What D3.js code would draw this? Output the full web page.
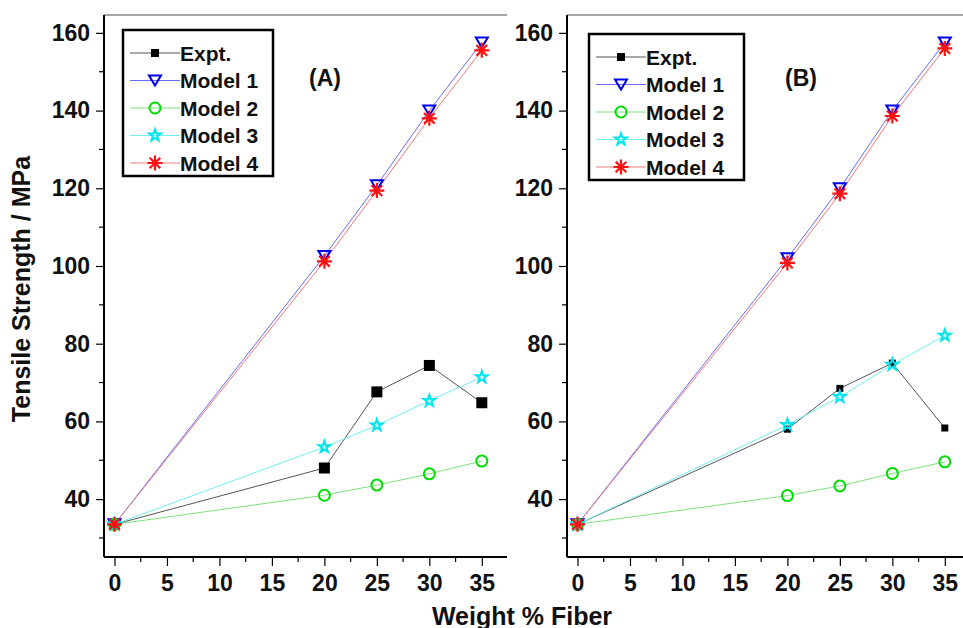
<!DOCTYPE html>
<html>
<head>
<meta charset="utf-8">
<script src="https://cdn.jsdelivr.net/npm/d3@7"></script>
<style>
  body { margin: 0; background: #fff; }
  svg { display: block; font-family: "Liberation Sans", Arial, sans-serif; font-weight: bold; }
</style>
</head>
<body>
<svg id="chart" width="963" height="628"></svg>
<script>
// fiber loading (wt %)
var fiber = [0, 20, 25, 30, 35];

// panel A values (MPa)
var exptA   = [33.5, 48.0, 67.6, 74.4, 64.8];
var model1A = [33.5, 102.6, 120.8, 140.0, 157.5];
var model2A = [33.5, 41.0, 43.6, 46.5, 49.8];
var model3A = [33.5, 53.4, 59.0, 65.3, 71.4];
var model4A = [33.5, 101.2, 119.4, 138.0, 155.5];

// panel B values (MPa)
var exptB   = [33.5, 58.0, 68.5, 75.0, 58.3];
var model1B = [33.5, 102.0, 120.0, 140.0, 157.5];
var model2B = [33.5, 40.9, 43.4, 46.6, 49.6];
var model3B = [33.5, 59.1, 66.3, 74.6, 82.1];
var model4B = [33.5, 100.8, 118.6, 138.6, 156.0];

var seriesNames = ["Expt.", "Model 1", "Model 2", "Model 3", "Model 4"];
var yTicks = [40, 60, 80, 100, 120, 140, 160];
var xTicks = [0, 5, 10, 15, 20, 25, 30, 35];

var svg = d3.select("#chart");

var styles = {
  "Expt.":   {line: "#555", color: "#000"},
  "Model 1": {line: "#6a6aff", color: "#0000ee"},
  "Model 2": {line: "#7ee07e", color: "#00dd00"},
  "Model 3": {line: "#6ff0f0", color: "#00e5ee"},
  "Model 4": {line: "#f07a7a", color: "#ff1111"}
};

// asterisk with 8 arms
function asteriskPath(r) {
  var p = d3.path();
  for (var i = 0; i < 4; i++) {
    var a = i * Math.PI / 4;
    p.moveTo(-r * Math.cos(a), -r * Math.sin(a));
    p.lineTo(r * Math.cos(a), r * Math.sin(a));
  }
  return p.toString();
}

function drawMarker(sel, name, sqSize) {
  var st = styles[name];
  if (name == "Expt.") {
    sel.append("rect").attr("x", -sqSize / 2).attr("y", -sqSize / 2)
      .attr("width", sqSize).attr("height", sqSize).attr("fill", "#000");
  } else if (name == "Model 1") {
    sel.append("path").attr("d", "M-6,-5L6,-5L0,5Z")
      .attr("fill", "none").attr("stroke", st.color).attr("stroke-width", 2);
  } else if (name == "Model 2") {
    sel.append("circle").attr("r", 5.5)
      .attr("fill", "none").attr("stroke", st.color).attr("stroke-width", 2);
  } else if (name == "Model 3") {
    sel.append("path").attr("d", d3.symbol(d3.symbolStar, 42)())
      .attr("fill", "none").attr("stroke", st.color).attr("stroke-width", 2);
  } else {
    sel.append("path").attr("d", asteriskPath(7.5))
      .attr("fill", "none").attr("stroke", st.color).attr("stroke-width", 2.2);
  }
}

function drawPanel(left, label, data, sqSize, legendPos) {
  var top = 15, bottom = 557, w = 403;
  var g = svg.append("g").attr("transform", "translate(" + left + ",0)");

  var x = d3.scaleLinear().domain([-1, 37.4]).range([0, w]);
  var y = d3.scaleLinear().domain([25.1, 164.6]).range([bottom, top]);

  // top frame line
  g.append("line").attr("x1", 0).attr("x2", w).attr("y1", top).attr("y2", top)
    .attr("stroke", "#888").attr("stroke-width", 1.5);

  // y axis
  var yAx = g.append("g").call(d3.axisLeft(y).tickValues(yTicks).tickSize(8).tickPadding(6));
  yAx.selectAll(".tick text").style("font-size", "23px").style("font-weight", "bold").attr("fill", "#111");
  yAx.select(".domain").remove();
  g.append("line").attr("x1", 0).attr("x2", 0).attr("y1", top).attr("y2", bottom)
    .attr("stroke", "#000").attr("stroke-width", 2);
  g.selectAll(".ymin").data(d3.range(30, 161, 20)).enter().append("line")
    .attr("x1", -5).attr("x2", 0).attr("y1", function(d) { return y(d); }).attr("y2", function(d) { return y(d); })
    .attr("stroke", "#000").attr("stroke-width", 1.2);

  // x axis
  var xAx = g.append("g").attr("transform", "translate(0," + bottom + ")")
    .call(d3.axisBottom(x).tickValues(xTicks).tickSize(9).tickPadding(9));
  xAx.selectAll(".tick text").style("font-size", "23px").style("font-weight", "bold").attr("fill", "#111");
  xAx.select(".domain").remove();
  g.append("line").attr("x1", 0).attr("x2", w).attr("y1", bottom).attr("y2", bottom)
    .attr("stroke", "#000").attr("stroke-width", 2);
  g.selectAll(".xmin").data(d3.range(2.5, 36, 5)).enter().append("line")
    .attr("x1", function(d) { return x(d); }).attr("x2", function(d) { return x(d); })
    .attr("y1", bottom).attr("y2", bottom + 5)
    .attr("stroke", "#000").attr("stroke-width", 1.2);
  g.selectAll(".tick line").attr("stroke-width", 1.2);

  var line = d3.line().x(function(d) { return x(d[0]); }).y(function(d) { return y(d[1]); });

  // lines first
  seriesNames.forEach(function(name, i) {
    var pts = fiber.map(function(f, j) { return [f, data[i][j]]; });
    g.append("path").datum(pts).attr("d", line)
      .attr("fill", "none").attr("stroke", styles[name].line).attr("stroke-width", 1);
  });
  // then markers
  seriesNames.forEach(function(name, i) {
    fiber.forEach(function(f, j) {
      var m = g.append("g").attr("transform", "translate(" + x(f) + "," + y(data[i][j]) + ")");
      drawMarker(m, name, sqSize);
    });
  });

  // panel label
  g.append("text").attr("x", legendPos.labelX).attr("y", 86)
    .attr("text-anchor", "middle").style("font-size", "23px").attr("fill", "#111").text(label);

  // legend
  var lg = g.append("g").attr("transform", "translate(" + legendPos.x + "," + legendPos.y + ")");
  lg.append("rect").attr("x", 0).attr("y", 0).attr("width", legendPos.w).attr("height", 146)
    .attr("fill", "#fff").attr("stroke", "#000").attr("stroke-width", 2.5);
  seriesNames.forEach(function(name, i) {
    var row = lg.append("g").attr("transform", "translate(0," + (23 + i * 27.5) + ")");
    row.append("line").attr("x1", 7).attr("x2", 57).attr("y1", 0).attr("y2", 0)
      .attr("stroke", styles[name].line).attr("stroke-width", 1);
    drawMarker(row.append("g").attr("transform", "translate(32,0)"), name, 8);
    row.append("text").attr("x", 57).attr("y", 7.5).style("font-size", "21px").attr("fill", "#111").text(name);
  });
}

drawPanel(104, "(A)", [exptA, model1A, model2A, model3A, model4A], 11,
  {x: 19, y: 30, w: 150, labelX: 221});
drawPanel(567, "(B)", [exptB, model1B, model2B, model3B, model4B], 7,
  {x: 22, y: 34, w: 155, labelX: 234});

// axis titles
svg.append("text").attr("transform", "translate(30,289) rotate(-90)")
  .attr("text-anchor", "middle").style("font-size", "25px").attr("fill", "#111")
  .text("Tensile Strength / MPa");
svg.append("text").attr("x", 522).attr("y", 625)
  .attr("text-anchor", "middle").style("font-size", "25px").attr("fill", "#111")
  .text("Weight % Fiber");
</script>
</body>
</html>
